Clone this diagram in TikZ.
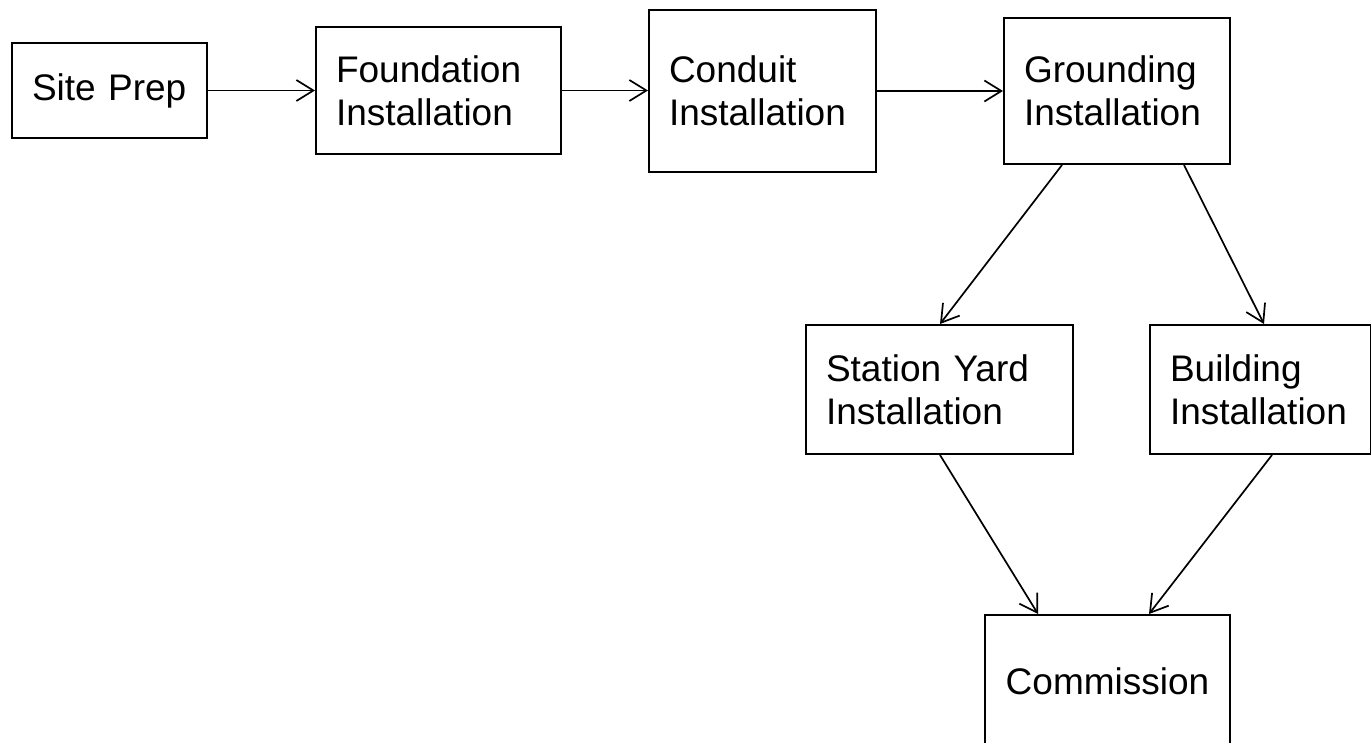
\documentclass[tikz,border=0pt]{standalone}
\usepackage{fontspec}
\setmainfont{Liberation Sans}
\usetikzlibrary{arrows.meta}
\tikzset{
  box/.style={draw, line width=2pt, inner xsep=20pt, inner ysep=0pt, align=left,
    anchor=north west, font=\fontsize{37}{43}\selectfont},
  conn/.style={line width=1.7pt, -{Straight Barb[length=17pt, width=21pt, line width=1.7pt]}}
}
\begin{document}
\begin{tikzpicture}[x=1pt, y=-1pt]
\useasboundingbox (0,0) rectangle (1371,743);
\clip (0,0) rectangle (1371,743);
\fill[white] (0,0) rectangle (1371,743);
\node[box, text width=155pt, minimum height=95pt] (sp) at (11,42) {Site Prep};
\node[box, text width=205pt, minimum height=127pt] (fi) at (315,26) {Foundation\\Installation};
\node[box, text width=187pt, minimum height=162pt] (ci) at (648,9) {Conduit\\Installation};
\node[box, text width=186pt, minimum height=146pt] (gi) at (1003,17) {Grounding\\Installation};
\node[box, text width=227pt, minimum height=129pt] (sy) at (805,324) {Station Yard\\Installation};
\node[box, text width=181pt, minimum height=129pt] (bi) at (1149,324) {Building\\Installation};
\node[box, text width=205pt, minimum height=132pt, align=center] (co) at (984,614) {Commission};
\draw[conn] (sp.east) -- (sp.east -| fi.west);
\draw[conn] (fi.east) -- (fi.east -| ci.west);
\draw[conn] (ci.east) -- (ci.east -| gi.west);
\draw[conn] ([xshift=59pt]gi.south west) -- ([xshift=135pt]sy.north west);
\draw[conn] ([xshift=181pt]gi.south west) -- ([xshift=115pt]bi.north west);
\draw[conn] ([xshift=135pt]sy.south west) -- ([xshift=54pt]co.north west);
\draw[conn] ([xshift=123pt]bi.south west) -- ([xshift=165pt]co.north west);
\end{tikzpicture}
\end{document}
